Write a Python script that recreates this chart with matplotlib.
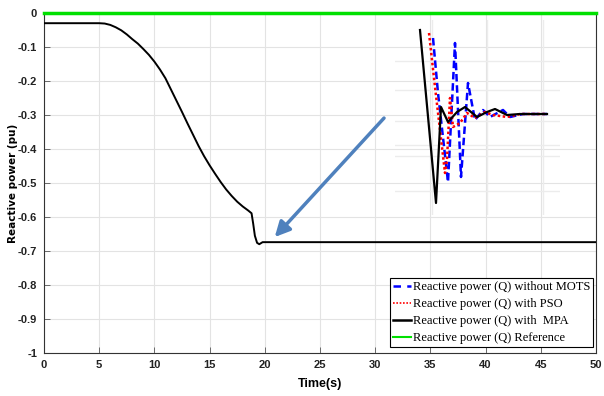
import matplotlib
matplotlib.use("Agg")
import matplotlib.pyplot as plt

# main MPA response (pu) over time (s)
t_main = [0, 5.0, 5.5, 6.0, 6.5, 7.0, 7.5, 8.0, 8.5, 9.0, 9.5, 10.0, 10.5, 11.0, 11.5, 12.0, 12.5, 13.0, 13.5,
          14.0, 14.5, 15.0, 15.5, 16.0, 16.5, 17.0, 17.5, 18.0, 18.5, 18.8, 18.95, 19.1, 19.3, 19.5, 19.8, 20.5, 50]
q_main = [-0.03, -0.03, -0.031, -0.035, -0.042, -0.051, -0.063, -0.077, -0.090, -0.106, -0.123, -0.143, -0.166,
          -0.192, -0.225, -0.258, -0.291, -0.325, -0.358, -0.391, -0.421, -0.448, -0.473, -0.497, -0.519, -0.538,
          -0.555, -0.569, -0.581, -0.589, -0.62, -0.655, -0.676, -0.68, -0.674, -0.674, -0.674]
t_ref = [0, 50]
q_ref = [0, 0]

# zoomed transient shown in the inset
t_mpa = [19.00, 19.16, 19.21, 19.28, 19.37, 19.45, 19.57, 19.67, 19.75, 19.87, 20.00, 20.27]
q_mpa = [-0.549, -0.8085, -0.6645, -0.687, -0.672, -0.6645, -0.6795, -0.672, -0.6675, -0.6765, -0.675, -0.675]
t_pso = [19.09, 19.15, 19.25, 19.27, 19.30, 19.33, 19.40, 19.47, 19.55, 19.65, 19.73, 19.87, 20.00, 20.27]
q_pso = [-0.5535, -0.6345, -0.7635, -0.744, -0.651, -0.6945, -0.6885, -0.6735, -0.681, -0.672, -0.6765, -0.6795, -0.675, -0.675]
t_mots = [19.13, 19.18, 19.28, 19.35, 19.41, 19.48, 19.55, 19.63, 19.70, 19.83, 19.90, 20.03, 20.27]
q_mots = [-0.561, -0.6435, -0.777, -0.5685, -0.7695, -0.6285, -0.684, -0.669, -0.6795, -0.669, -0.6795, -0.675, -0.675]

labels = ["Reactive power (Q) without MOTS", "Reactive power (Q) with PSO",
          "Reactive power (Q) with  MPA", "Reactive power (Q) Reference"]

W, H = 604, 396
fig = plt.figure(figsize=(W / 100, H / 100), dpi=100)
ax = fig.add_axes([44 / W, 1 - 353 / H, 552 / W, 340 / H])

ax.plot(t_main, q_main, color="black", lw=1.4, zorder=3)
ax.plot(t_ref, q_ref, color="#00e000", lw=2.5, zorder=4, clip_on=False)

ax.set_xlim(0, 50)
ax.set_ylim(-1, 0)
ax.set_xticks(range(0, 51, 5))
ax.set_yticks([round(-0.1 * i, 1) for i in range(11)])
ax.set_yticklabels(["0", "-0.1", "-0.2", "-0.3", "-0.4", "-0.5", "-0.6", "-0.7", "-0.8", "-0.9", "-1"])
ax.grid(True, color="#e3e3e3", lw=0.8)
ax.tick_params(direction="in", length=4, labelsize=8, width=0.6, color="#555555", pad=5)
for lab in ax.get_xticklabels() + ax.get_yticklabels():
    lab.set_fontfamily("Liberation Sans")
    lab.set_fontweight("bold")
    lab.set_color("#222222")
for s in ax.spines.values():
    s.set_linewidth(0.8)
    s.set_color("#333333")

ax.set_xlabel("Time(s)", fontfamily="Liberation Sans", fontweight="bold", fontsize=9)
ax.xaxis.set_label_coords(0.5, -0.075)
ax.set_ylabel("Reactive power (pu)", fontfamily="DejaVu Sans", fontweight="bold", fontsize=7.5)
ax.yaxis.set_label_coords(-0.047, 0.5)

# arrow pointing to the settling point
ax.annotate("", xy=(20.9, -0.659), xytext=(30.8, -0.309),
            arrowprops=dict(arrowstyle="-|>,head_length=0.9,head_width=0.45",
                            color="#4f81bd", lw=2.5, shrinkA=0, shrinkB=0))

# legend with proxy lines
h1, = ax.plot([], [], color="blue", ls=(0, (3, 2.5)), lw=1.8)
h2, = ax.plot([], [], color="red", ls=(0, (1, 1)), lw=1.2)
h3, = ax.plot([], [], color="black", lw=1.8)
h4, = ax.plot([], [], color="#00e000", lw=1.5)
leg = ax.legend([h1, h2, h3, h4], labels, loc="lower right",
                bbox_to_anchor=(0.9946, 0.0176), borderaxespad=0, fancybox=False,
                framealpha=1, edgecolor="black",
                prop={"family": "Liberation Serif", "size": 9},
                handlelength=1.4, handletextpad=0.15, borderpad=0.25, labelspacing=0.4)
leg.get_frame().set_linewidth(0.8)

# inset of the transient
ins = fig.add_axes([395 / W, 1 - 215 / H, 165 / W, 195 / H])
ins.plot(t_mots, q_mots, color="blue", ls=(0, (3, 1.5)), lw=1.8)
ins.plot(t_pso, q_pso, color="red", ls=(0, (1, 1)), lw=1.8)
ins.plot(t_mpa, q_mpa, color="black", lw=1.6)
ins.set_xlim(18.75, 20.4)
ins.set_ylim(-0.8265, -0.534)
ins.set_xticks([19.12, 19.67, 20.23])
ins.set_yticks([-0.5955, -0.639, -0.6855, -0.7215, -0.738, -0.7905])
ins.tick_params(length=0, labelleft=False, labelbottom=False)
ins.grid(True, color="#ececec", lw=1.0)
for s in ins.spines.values():
    s.set_visible(False)
ins.patch.set_alpha(0)

fig.savefig("out.png", dpi=100)
